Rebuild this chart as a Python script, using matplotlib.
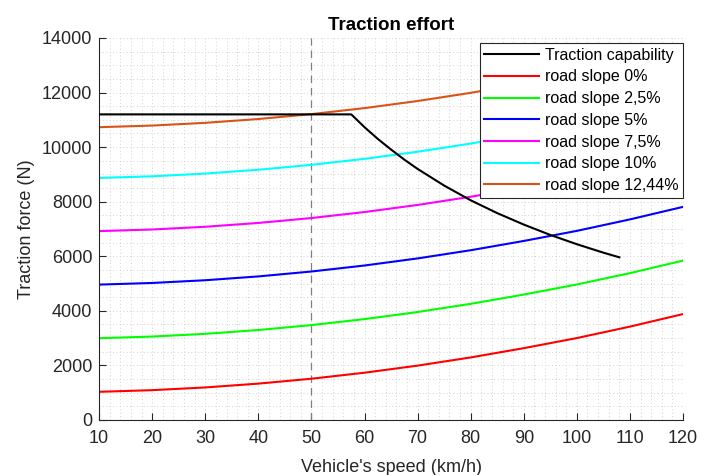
import matplotlib
matplotlib.use("Agg")
import matplotlib.pyplot as plt
from matplotlib.ticker import MultipleLocator

plt.rcParams['font.family'] = ['Liberation Sans', 'DejaVu Sans']

speed = [10, 20, 30, 40, 50, 60, 70, 80, 90, 100, 110, 120]
slope_0 = [1030, 1090, 1190, 1330, 1510, 1730, 1990, 2290, 2630, 3000, 3420, 3880]
slope_2_5 = [2995, 3055, 3155, 3295, 3475, 3695, 3955, 4255, 4595, 4965, 5380, 5840]
slope_5 = [4960, 5020, 5120, 5260, 5440, 5660, 5920, 6220, 6560, 6930, 7350, 7810]
slope_7_5 = [6920, 6980, 7080, 7220, 7400, 7620, 7880, 8180, 8520, 8890, 9310, 9770]
slope_10 = [8870, 8930, 9030, 9170, 9350, 9570, 9830, 10130, 10470, 10840, 11260, 11720]
slope_12_44 = [10730, 10790, 10890, 11030, 11210, 11430, 11690, 11990, 12330, 12700, 13120, 13580]

cap_speed = [10, 57.5, 60, 62.5, 65, 67.5, 70, 75, 80, 85, 90, 95, 100, 105, 108]
cap_force = [11200, 11200, 10730, 10300, 9910, 9540, 9200, 8590, 8050, 7580, 7160, 6780, 6440, 6130, 5960]

ref_speed = 50

labels = ['Traction capability', 'road slope 0%', 'road slope 2,5%', 'road slope 5%',
          'road slope 7,5%', 'road slope 10%', 'road slope 12,44%']
colors = ['#000000', '#ff0000', '#00ff00', '#0000ff', '#ff00ff', '#00ffff', '#d95319']

fig = plt.figure(figsize=(7.13, 4.75), dpi=100)
ax = fig.add_axes([0.139, 0.116, 0.819, 0.804])

ax.axvline(ref_speed, color='#808080', linestyle=(0, (6, 4)), linewidth=0.9, zorder=1)
ax.plot(cap_speed, cap_force, color=colors[0], linewidth=1.5, label=labels[0], zorder=3)
for ys, c, lab in zip([slope_0, slope_2_5, slope_5, slope_7_5, slope_10, slope_12_44], colors[1:], labels[1:]):
    ax.plot(speed, ys, color=c, linewidth=1.5, label=lab, zorder=2)

ax.set_xlim(10, 120)
ax.set_ylim(0, 14000)
ax.xaxis.set_major_locator(MultipleLocator(10))
ax.xaxis.set_minor_locator(MultipleLocator(2))
ax.yaxis.set_major_locator(MultipleLocator(2000))
ax.yaxis.set_minor_locator(MultipleLocator(500))
ax.grid(which='both', color='#d2d2d2', linestyle=(0, (1, 2.5)), linewidth=0.7)
ax.set_axisbelow(True)

for s in ['top', 'right']:
    ax.spines[s].set_visible(False)
for s in ['left', 'bottom']:
    ax.spines[s].set_color('#262626')
    ax.spines[s].set_linewidth(0.8)
ax.tick_params(which='major', direction='in', length=5, colors='#262626', labelsize=13, width=0.8)
ax.tick_params(which='minor', length=0)
ax.tick_params(axis='x', pad=7)
ax.tick_params(axis='y', pad=5)

ax.set_xlabel("Vehicle's speed (km/h)", fontsize=13, color='#262626', labelpad=9)
ax.set_ylabel("Traction force (N)", fontsize=13, color='#262626', labelpad=5)
ax.set_title("Traction effort", fontsize=13.5, fontweight='bold', pad=6)

leg = ax.legend(loc='upper right', bbox_to_anchor=(1.0, 0.987), fontsize=11.5, frameon=True, fancybox=False,
                framealpha=1, edgecolor='#262626', handlelength=3.4, handletextpad=0.37,
                labelspacing=0.42, borderpad=0.3, borderaxespad=0.0)
leg.get_frame().set_linewidth(0.8)

fig.savefig('out.png', dpi=100)
